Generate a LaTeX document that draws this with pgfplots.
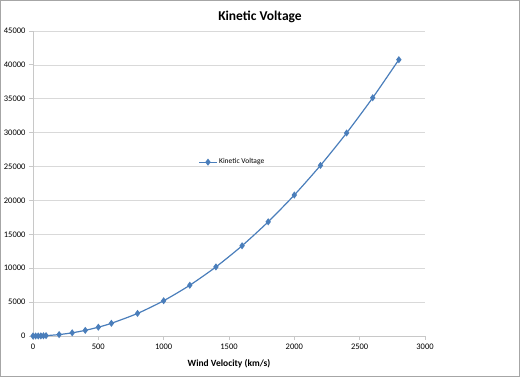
\documentclass[border=0pt]{standalone}
\usepackage{pgfplots}
\pgfplotsset{compat=1.18}
\usepackage{fontspec}
\setmainfont{Carlito}
\definecolor{xlblue}{HTML}{4A7EBB}
\definecolor{axgray}{HTML}{C8C8C8}
\definecolor{gridgray}{HTML}{D9D9D9}
\begin{document}
\begin{tikzpicture}[x=1pt,y=1pt]
\draw[gray!70, line width=1pt] (0.5,0.5) rectangle (519.5,376.5);
\path[use as bounding box] (0,0) rectangle (520,377);
\node[font=\bfseries\fontsize{13.5}{15}\selectfont] at (260,360) {Kinetic Voltage};
\begin{axis}[
  at={(33pt,41pt)}, anchor=south west,
  scale only axis, width=392pt, height=305pt,
  xmin=0, xmax=3000, ymin=0, ymax=45000,
  xtick={0,500,...,3000}, ytick={0,5000,...,45000},
  scaled ticks=false,
  axis x line*=bottom, axis y line*=left,
  axis line style={axgray, line width=0.8pt},
  ymajorgrids, grid style={gridgray, line width=0.7pt},
  tick style={axgray, line width=0.8pt},
  tick align=outside, major tick length=4pt,
  /pgf/number format/1000 sep={},
  /pgf/number format/assume math mode=true,
  ticklabel style={font=\fontsize{8.5}{10}\selectfont},
  xlabel={Wind Velocity (km/s)},
  xlabel style={font=\bfseries\fontsize{9.5}{11}\selectfont, yshift=-3pt},
  legend style={at={(0.42,0.57)}, anchor=west, draw=none, fill=none,
    font=\fontsize{7.5}{9}\selectfont, inner sep=1pt},
  legend cell align=left,
  clip=false,
]
\addplot[color=xlblue, line width=1.2pt, smooth, tension=0.4,
  mark=diamond*, mark size=2.6pt, mark options={fill=xlblue, draw=xlblue}]
coordinates {
(0,0) (20,2) (40,8) (60,19) (80,33) (100,52)
(200,208) (300,468) (400,832) (500,1300) (600,1872)
(800,3328) (1000,5200) (1200,7488) (1400,10192) (1600,13312)
(1800,16848) (2000,20800) (2200,25168) (2400,29952) (2600,35152) (2800,40768)
};
\addlegendentry{Kinetic Voltage}
\end{axis}
\end{tikzpicture}
\end{document}
